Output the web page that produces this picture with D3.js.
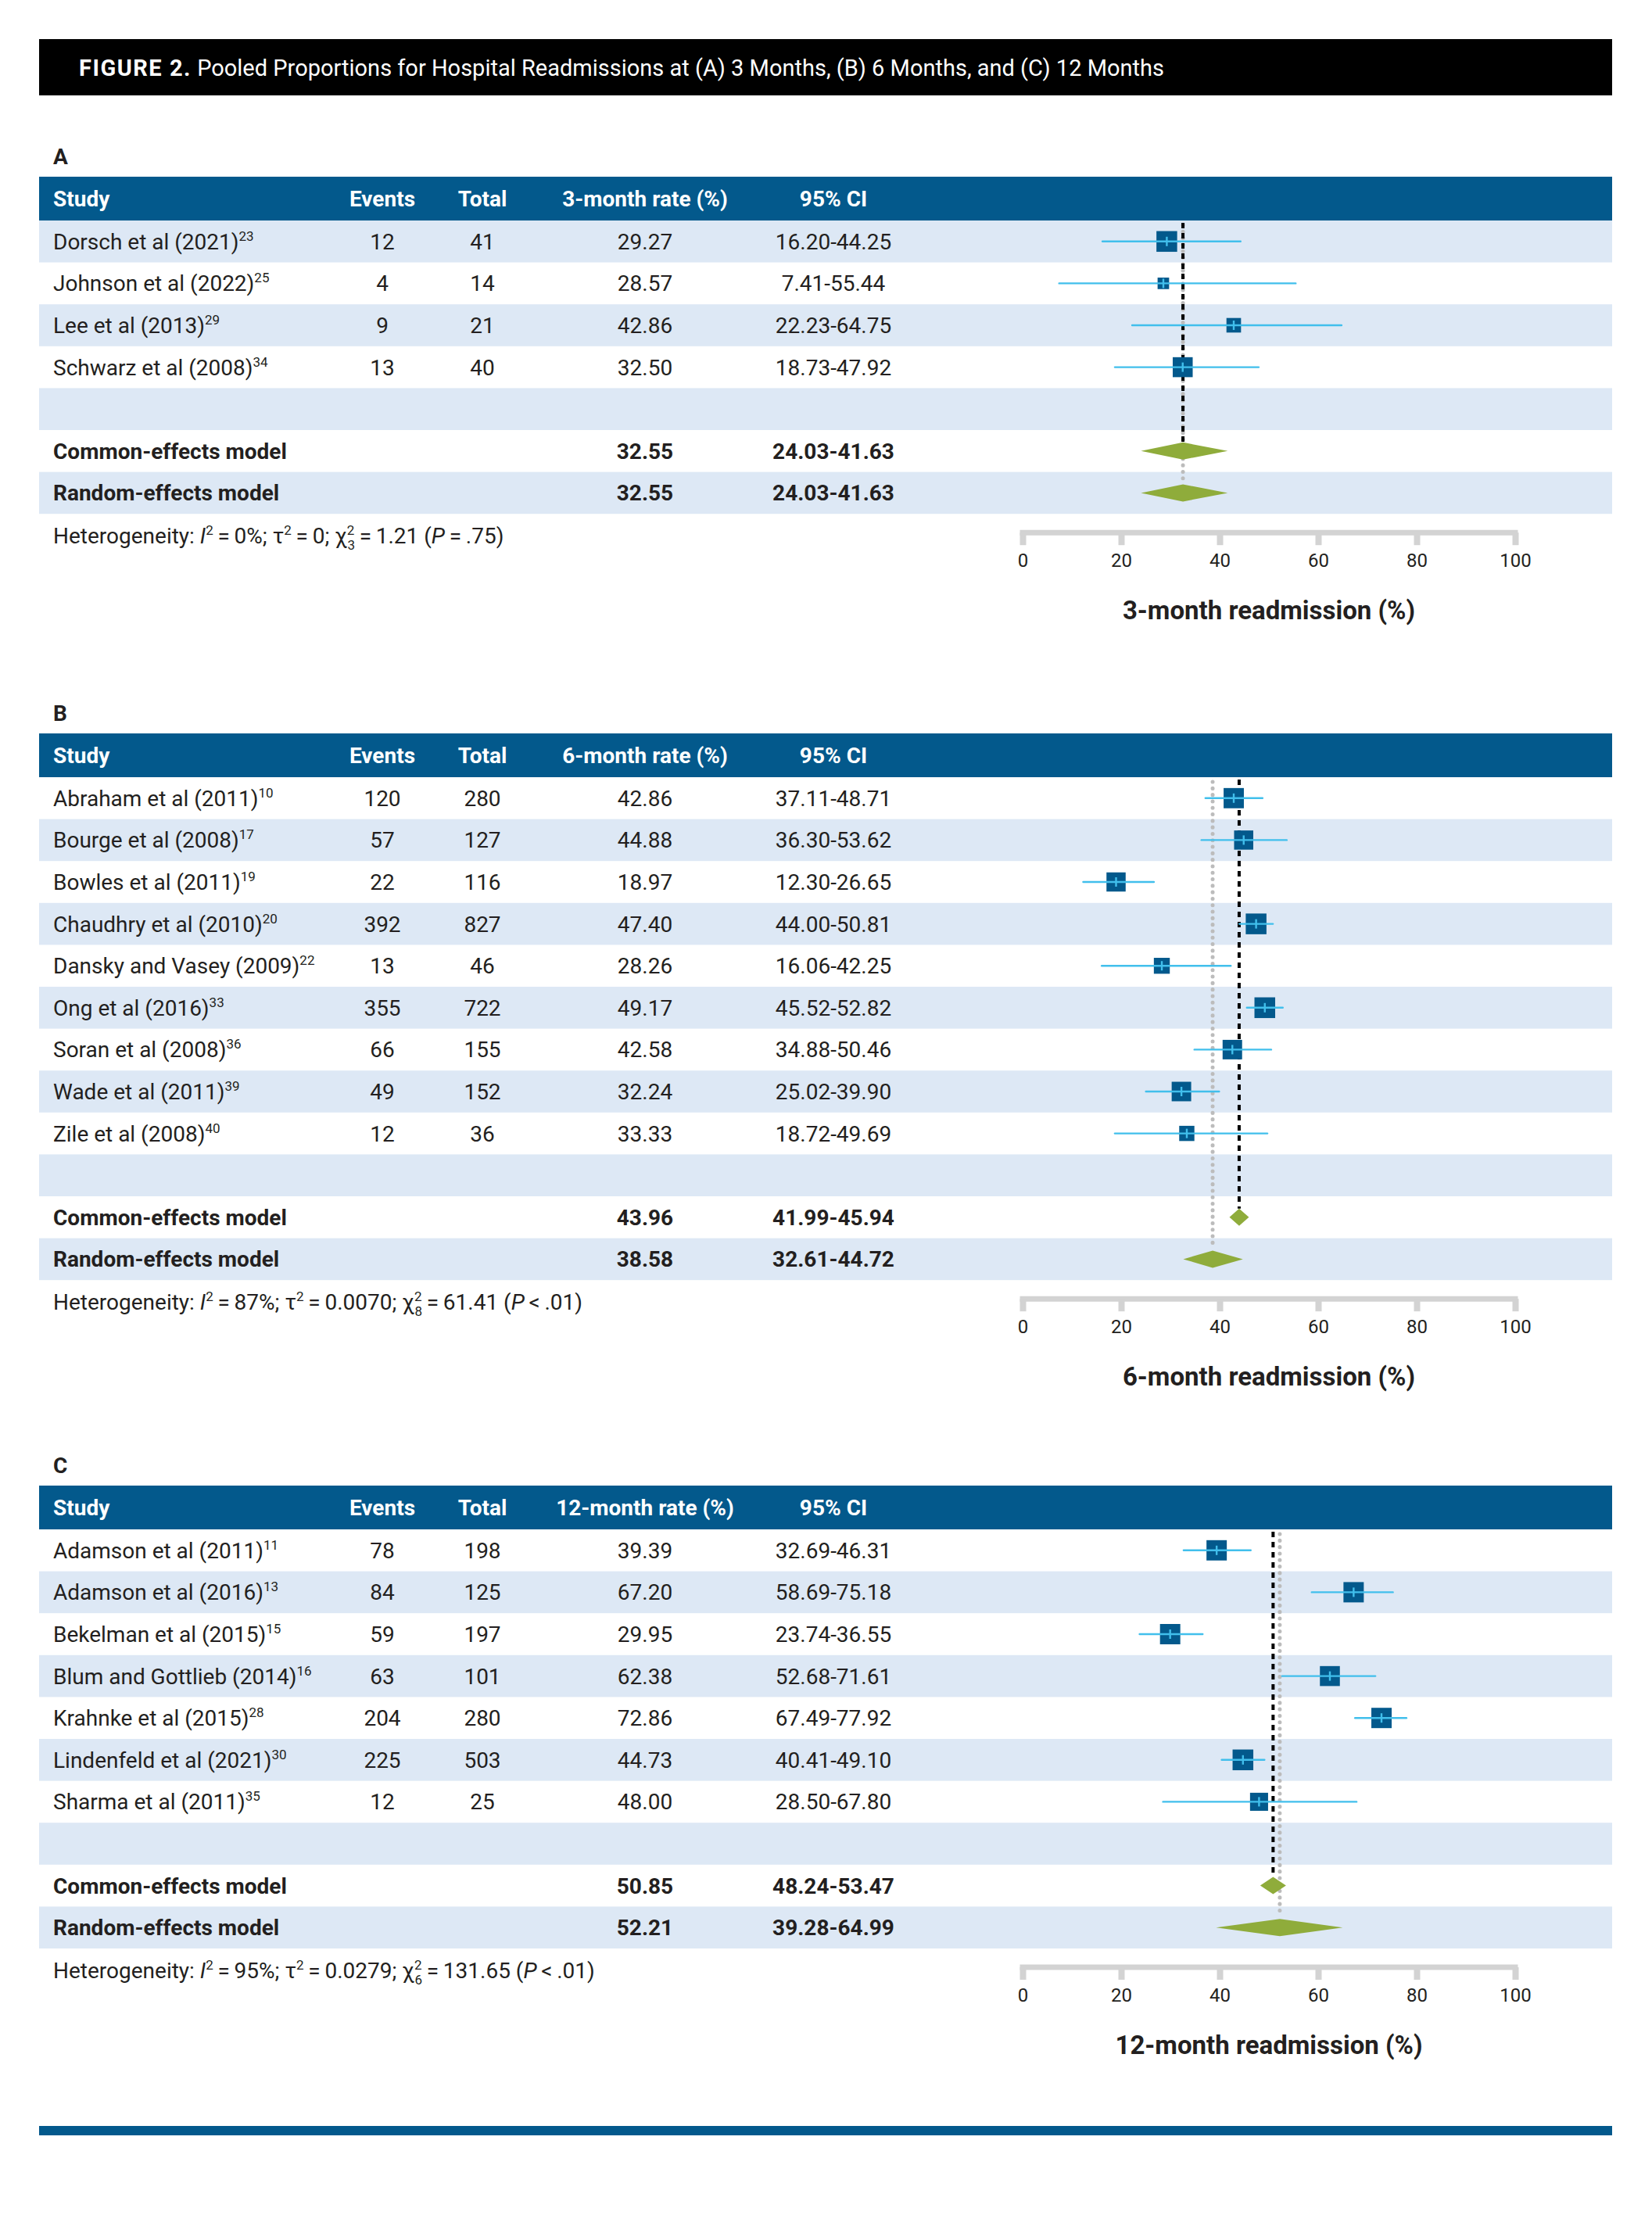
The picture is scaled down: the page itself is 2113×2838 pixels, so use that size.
<!DOCTYPE html>
<html>
<head>
<meta charset="utf-8">
<script src="https://cdn.jsdelivr.net/npm/d3@7"></script>
<style>
  body { margin: 0; background: #fff; }
  svg { display: block; font-family: Roboto, "Noto Sans", sans-serif; }
  .cell { font-size: 28px; fill: #231f20; }
  .bold { font-weight: bold; }
  .head { font-size: 28px; font-weight: bold; fill: #fff; }
  .axistitle { font-size: 33px; font-weight: bold; fill: #231f20; }
  .tick text { font-size: 24px; fill: #231f20; font-family: Roboto, sans-serif; }
</style>
</head>
<body>
<svg width="2113" height="2838"></svg>
<script>
// ---- panel A : 3 months ----
var studiesA = ["Dorsch et al (2021)", "Johnson et al (2022)", "Lee et al (2013)", "Schwarz et al (2008)"]
var refsA    = ["23", "25", "29", "34"]
var eventsA  = [12, 4, 9, 13]
var totalsA  = [41, 14, 21, 40]
var ratesA   = [29.27, 28.57, 42.86, 32.50]
var lowerA   = [16.20, 7.41, 22.23, 18.73]
var upperA   = [44.25, 55.44, 64.75, 47.92]
var weightsA = [36.6, 11.3, 18.1, 34.0]
var commonA  = [32.55, 24.03, 41.63]
var randomA  = [32.55, 24.03, 41.63]
var hetA     = ["0%", "0", "3", "1.21", "=", ".75"]

// ---- panel B : 6 months ----
var studiesB = ["Abraham et al (2011)", "Bourge et al (2008)", "Bowles et al (2011)", "Chaudhry et al (2010)",
                "Dansky and Vasey (2009)", "Ong et al (2016)", "Soran et al (2008)", "Wade et al (2011)", "Zile et al (2008)"]
var refsB    = ["10", "17", "19", "20", "22", "33", "36", "39", "40"]
var eventsB  = [120, 57, 22, 392, 13, 355, 66, 49, 12]
var totalsB  = [280, 127, 116, 827, 46, 722, 155, 152, 36]
var ratesB   = [42.86, 44.88, 18.97, 47.40, 28.26, 49.17, 42.58, 32.24, 33.33]
var lowerB   = [37.11, 36.30, 12.30, 44.00, 16.06, 45.52, 34.88, 25.02, 18.72]
var upperB   = [48.71, 53.62, 26.65, 50.81, 42.25, 52.82, 50.46, 39.90, 49.69]
var weightsB = [12.6, 11.3, 11.3, 13.2, 7.8, 13.2, 11.7, 11.7, 7.1]
var commonB  = [43.96, 41.99, 45.94]
var randomB  = [38.58, 32.61, 44.72]
var hetB     = ["87%", "0.0070", "8", "61.41", "<", ".01"]

// ---- panel C : 12 months ----
var studiesC = ["Adamson et al (2011)", "Adamson et al (2016)", "Bekelman et al (2015)", "Blum and Gottlieb (2014)",
                "Krahnke et al (2015)", "Lindenfeld et al (2021)", "Sharma et al (2011)"]
var refsC    = ["11", "13", "15", "16", "28", "30", "35"]
var eventsC  = [78, 84, 59, 63, 204, 225, 12]
var totalsC  = [198, 125, 197, 101, 280, 503, 25]
var ratesC   = [39.39, 67.20, 29.95, 62.38, 72.86, 44.73, 48.00]
var lowerC   = [32.69, 58.69, 23.74, 52.68, 67.49, 40.41, 28.50]
var upperC   = [46.31, 75.18, 36.55, 71.61, 77.92, 49.10, 67.80]
var weightsC = [14.7, 14.7, 14.7, 14.2, 14.7, 15.3, 11.6]
var commonC  = [50.85, 48.24, 53.47]
var randomC  = [52.21, 39.28, 64.99]
var hetC     = ["95%", "0.0279", "6", "131.65", "<", ".01"]

var panelLetters = ["A", "B", "C"]
var rateHeads  = ["3-month rate (%)", "6-month rate (%)", "12-month rate (%)"]
var axisTitles = ["3-month readmission (%)", "6-month readmission (%)", "12-month readmission (%)"]
var axisTicks  = [0, 20, 40, 60, 80, 100]

var svg = d3.select("svg")
var left = 50, right = 2062, rowH = 53.6, headH = 56
var cols = {study: 68, events: 489, total: 617, rate: 825, ci: 1066}
var blue = "#03598c", shade = "#dde8f5", cyan = "#41bfec", green = "#8fac3b"
var thin = "\u2009"

var xScale = d3.scaleLinear().domain([0, 100]).range([1308, 1938])

// title bar
svg.append("rect").attr("x", left).attr("y", 50).attr("width", right - left).attr("height", 72).attr("fill", "#000")
var title = svg.append("text").attr("x", 101).attr("y", 97).attr("fill", "#fff").style("font-size", "29px")
title.append("tspan").text("FIGURE 2.").style("font-weight", "bold").style("letter-spacing", "1.5px")
title.append("tspan").text(" Pooled Proportions for Hospital Readmissions at (A) 3 Months, (B) 6 Months, and (C) 12 Months")

var fmt = d3.format(".2f")

var drawPanel = function(idx, top, studies, refs, events, totals, rates, lower, upper, weights, common, random, het)
{
    var g = svg.append("g")
    var n = studies.length + 3
    var rowsTop = top + headH
    var rowY = function(i) { return rowsTop + i * rowH }
    var rowMid = function(i) { return rowsTop + i * rowH + rowH / 2 }

    g.append("text").text(panelLetters[idx]).classed("cell bold", true)
        .attr("x", cols.study).attr("y", top - 16)

    // header band
    g.append("rect").attr("x", left).attr("y", top).attr("width", right - left).attr("height", headH).attr("fill", blue)
    var heads = [["Study", cols.study, "start"], ["Events", cols.events, "middle"], ["Total", cols.total, "middle"],
                 [rateHeads[idx], cols.rate, "middle"], ["95% CI", cols.ci, "middle"]]
    g.selectAll(".head").data(heads).enter().append("text").classed("head", true)
        .attr("x", function(d) { return d[1] }).attr("y", top + headH / 2 + 10)
        .attr("text-anchor", function(d) { return d[2] }).text(function(d) { return d[0] })

    // row shading, alternating from the bottom row
    d3.range(n).forEach(function(i) {
        if ((n - 1 - i) % 2 == 0)
            g.append("rect").attr("x", left).attr("y", rowY(i)).attr("width", right - left)
                .attr("height", rowH).attr("fill", shade)
    })

    // study rows
    studies.forEach(function(s, i) {
        var y = rowMid(i) + 10
        var t = g.append("text").classed("cell", true).attr("x", cols.study).attr("y", y)
        t.append("tspan").text(s)
        t.append("tspan").text(refs[i]).style("font-size", "17px").attr("dy", -11)
        var vals = [[events[i], cols.events], [totals[i], cols.total], [fmt(rates[i]), cols.rate],
                    [fmt(lower[i]) + "-" + fmt(upper[i]), cols.ci]]
        vals.forEach(function(v) {
            g.append("text").classed("cell", true).attr("x", v[1]).attr("y", y)
                .attr("text-anchor", "middle").text(v[0])
        })
    })

    // pooled rows
    var pooled = [["Common-effects model", common], ["Random-effects model", random]]
    pooled.forEach(function(p, k) {
        var y = rowMid(studies.length + 1 + k) + 10
        g.append("text").classed("cell bold", true).attr("x", cols.study).attr("y", y).text(p[0])
        g.append("text").classed("cell bold", true).attr("x", cols.rate).attr("y", y)
            .attr("text-anchor", "middle").text(fmt(p[1][0]))
        g.append("text").classed("cell bold", true).attr("x", cols.ci).attr("y", y)
            .attr("text-anchor", "middle").text(fmt(p[1][1]) + "-" + fmt(p[1][2]))
    })

    // reference lines
    var dh = 11
    var commonMid = rowMid(studies.length + 1), randomMid = rowMid(studies.length + 2)
    g.append("line").attr("x1", xScale(random[0])).attr("x2", xScale(random[0]))
        .attr("y1", rowsTop + 6).attr("y2", randomMid - dh - 3)
        .attr("stroke", "#bcbcbc").attr("stroke-width", 5).attr("stroke-linecap", "round")
        .attr("stroke-dasharray", "0.1,8.2")
    g.append("line").attr("x1", xScale(common[0])).attr("x2", xScale(common[0]))
        .attr("y1", rowsTop + 3).attr("y2", commonMid - dh)
        .attr("stroke", "#000").attr("stroke-width", 4).attr("stroke-dasharray", "7,6")

    // study markers
    var size = d3.scaleSqrt().domain([0, d3.max(weights)]).range([0, 26.5])
    studies.forEach(function(s, i) {
        var cy = rowMid(i), cx = xScale(rates[i]), w = size(weights[i])
        g.append("rect").attr("x", cx - w / 2).attr("y", cy - w / 2).attr("width", w).attr("height", w)
            .attr("fill", blue)
        g.append("line").attr("x1", xScale(lower[i])).attr("x2", xScale(upper[i]))
            .attr("y1", cy).attr("y2", cy).attr("stroke", cyan).attr("stroke-width", 2.4)
            .attr("stroke-linecap", "round")
        g.append("line").attr("x1", cx).attr("x2", cx).attr("y1", cy - 6).attr("y2", cy + 6)
            .attr("stroke", cyan).attr("stroke-width", 2.4)
    })

    // diamonds
    pooled.forEach(function(p, k) {
        var cy = rowMid(studies.length + 1 + k)
        var pts = [[xScale(p[1][1]), cy], [xScale(p[1][0]), cy - dh], [xScale(p[1][2]), cy], [xScale(p[1][0]), cy + dh]]
        g.append("polygon").attr("points", pts.map(function(q) { return q.join(",") }).join(" "))
            .attr("fill", green)
    })

    // heterogeneity line
    var rowsBottom = rowY(n)
    var h = g.append("text").classed("cell", true).attr("x", cols.study).attr("y", rowsBottom + 38)
    h.append("tspan").text("Heterogeneity: ")
    h.append("tspan").text("I").style("font-style", "italic")
    h.append("tspan").text("2").style("font-size", "17px").attr("dy", -11)
    h.append("tspan").text(thin + "=" + thin + het[0] + "; \u03c4").attr("dy", 11)
    h.append("tspan").text("2").style("font-size", "17px").attr("dy", -11)
    h.append("tspan").text(thin + "=" + thin + het[1] + "; \u03c7").attr("dy", 11)
    h.append("tspan").text("2").style("font-size", "17px").attr("dy", -11)
    h.append("tspan").text(het[2]).style("font-size", "17px").attr("dx", -9).attr("dy", 19)
    h.append("tspan").text(thin + "=" + thin + het[3] + " (").attr("dy", -8)
    h.append("tspan").text("P").style("font-style", "italic")
    h.append("tspan").text(thin + het[4] + thin + het[5] + ")")

    // axis
    var axisY = rowsBottom + 24
    var axis = d3.axisBottom(xScale).tickValues(axisTicks).tickSize(16).tickSizeOuter(0).tickPadding(11)
    var ag = g.append("g").attr("transform", "translate(0," + axisY + ")").call(axis)
    ag.select(".domain").attr("stroke", "#d3d3d3").attr("stroke-width", 7).attr("stroke-linecap", "square")
        .attr("d", "M" + xScale(0) + ",0H" + xScale(100))
    ag.selectAll(".tick line").attr("stroke", "#d3d3d3").attr("stroke-width", 8)
    ag.selectAll(".tick text").attr("fill", "#231f20")

    g.append("text").classed("axistitle", true).attr("x", (xScale(0) + xScale(100)) / 2)
        .attr("y", axisY + 111).attr("text-anchor", "middle").text(axisTitles[idx])
}

drawPanel(0, 226, studiesA, refsA, eventsA, totalsA, ratesA, lowerA, upperA, weightsA, commonA, randomA, hetA)
drawPanel(1, 938, studiesB, refsB, eventsB, totalsB, ratesB, lowerB, upperB, weightsB, commonB, randomB, hetB)
drawPanel(2, 1900, studiesC, refsC, eventsC, totalsC, ratesC, lowerC, upperC, weightsC, commonC, randomC, hetC)

// bottom rule
svg.append("rect").attr("x", left).attr("y", 2719).attr("width", right - left).attr("height", 12).attr("fill", blue)
</script>
</body>
</html>
